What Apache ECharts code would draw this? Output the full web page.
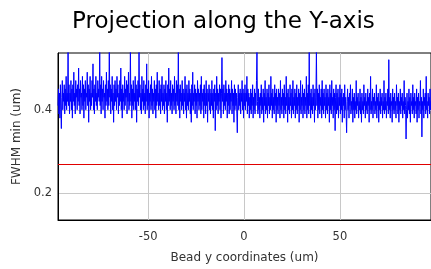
<!DOCTYPE html>
<html>
<head>
<meta charset="utf-8">
<script src="https://cdn.jsdelivr.net/npm/echarts@6/dist/echarts.min.js"></script>
<style>
  html, body { margin: 0; padding: 0; background: #fff; }
  #chart { width: 431px; height: 269px; }
</style>
</head>
<body>
<div id="chart"></div>
<script>
// bead positions are sampled every 0.25 um starting at -97 um
const xStart = -97;
const xStep = 0.25;

// FWHM min (um) per bead position
const fwhmMin = [
  0.41, 0.45, 0.39, 0.44, 0.38, 0.46, 0.40, 0.355, 0.43, 0.47, 0.40, 0.44, 0.42, 0.46, 0.39, 0.45, 0.41, 0.48, 0.40, 0.44,
  0.42, 0.54, 0.41, 0.46, 0.39, 0.44, 0.42, 0.47, 0.40, 0.45, 0.38, 0.46, 0.42, 0.49, 0.41, 0.44, 0.39, 0.47, 0.43, 0.45,
  0.40, 0.46, 0.42, 0.50, 0.41, 0.45, 0.39, 0.47, 0.43, 0.44, 0.40, 0.48, 0.41, 0.46, 0.38, 0.45, 0.42, 0.47, 0.40, 0.44,
  0.43, 0.49, 0.41, 0.46, 0.37, 0.45, 0.42, 0.48, 0.40, 0.44, 0.41, 0.47, 0.43, 0.51, 0.40, 0.45, 0.39, 0.46, 0.42, 0.48,
  0.41, 0.44, 0.40, 0.47, 0.43, 0.45, 0.42, 0.54, 0.41, 0.46, 0.39, 0.48, 0.42, 0.45, 0.40, 0.47, 0.43, 0.44, 0.38, 0.46,
  0.41, 0.49, 0.42, 0.45, 0.40, 0.47, 0.41, 0.54, 0.43, 0.46, 0.39, 0.45, 0.42, 0.48, 0.40, 0.44, 0.37, 0.46, 0.41, 0.47,
  0.42, 0.45, 0.40, 0.48, 0.43, 0.46, 0.39, 0.44, 0.41, 0.47, 0.42, 0.50, 0.40, 0.45, 0.38, 0.46, 0.42, 0.44, 0.40, 0.48,
  0.41, 0.45, 0.43, 0.47, 0.39, 0.46, 0.42, 0.49, 0.40, 0.44, 0.41, 0.54, 0.42, 0.46, 0.38, 0.45, 0.41, 0.47, 0.40, 0.44,
  0.42, 0.48, 0.40, 0.46, 0.37, 0.45, 0.42, 0.47, 0.41, 0.54, 0.43, 0.46, 0.40, 0.44, 0.39, 0.48, 0.42, 0.45, 0.40, 0.47,
  0.41, 0.44, 0.39, 0.46, 0.42, 0.51, 0.40, 0.45, 0.41, 0.47, 0.38, 0.44, 0.42, 0.46, 0.40, 0.48, 0.41, 0.45, 0.39, 0.44,
  0.42, 0.47, 0.40, 0.45, 0.38, 0.46, 0.41, 0.49, 0.42, 0.44, 0.40, 0.47, 0.41, 0.45, 0.39, 0.46, 0.42, 0.48, 0.40, 0.44,
  0.41, 0.46, 0.39, 0.45, 0.42, 0.47, 0.40, 0.44, 0.37, 0.46, 0.41, 0.50, 0.42, 0.45, 0.40, 0.47, 0.41, 0.44, 0.39, 0.46,
  0.42, 0.45, 0.40, 0.48, 0.41, 0.44, 0.39, 0.47, 0.42, 0.46, 0.41, 0.54, 0.40, 0.45, 0.38, 0.46, 0.42, 0.44, 0.40, 0.47,
  0.41, 0.45, 0.39, 0.44, 0.42, 0.48, 0.40, 0.45, 0.38, 0.46, 0.41, 0.44, 0.40, 0.47, 0.42, 0.45, 0.39, 0.44, 0.37, 0.46,
  0.41, 0.49, 0.40, 0.44, 0.42, 0.46, 0.39, 0.45, 0.41, 0.44, 0.38, 0.47, 0.42, 0.45, 0.40, 0.44, 0.41, 0.46, 0.39, 0.48,
  0.40, 0.44, 0.42, 0.45, 0.38, 0.46, 0.41, 0.44, 0.39, 0.47, 0.41, 0.45, 0.37, 0.44, 0.42, 0.46, 0.40, 0.45, 0.39, 0.44,
  0.41, 0.47, 0.40, 0.44, 0.38, 0.45, 0.42, 0.46, 0.35, 0.44, 0.40, 0.48, 0.41, 0.45, 0.39, 0.44, 0.42, 0.46, 0.40, 0.45,
  0.38, 0.44, 0.525, 0.42, 0.45, 0.39, 0.46, 0.41, 0.44, 0.40, 0.47, 0.42, 0.45, 0.38, 0.44, 0.41, 0.46, 0.39, 0.45, 0.40,
  0.44, 0.42, 0.47, 0.39, 0.45, 0.41, 0.44, 0.37, 0.46, 0.40, 0.45, 0.41, 0.44, 0.39, 0.345, 0.43, 0.46, 0.40, 0.44, 0.41,
  0.45, 0.39, 0.44, 0.42, 0.47, 0.40, 0.45, 0.38, 0.44, 0.41, 0.46, 0.40, 0.44, 0.42, 0.48, 0.39, 0.45, 0.41, 0.44, 0.38,
  0.43, 0.40, 0.45, 0.39, 0.44, 0.41, 0.46, 0.38, 0.43, 0.40, 0.45, 0.39, 0.44, 0.41, 0.47, 0.54, 0.42, 0.39, 0.45, 0.40,
  0.43, 0.38, 0.44, 0.41, 0.46, 0.39, 0.43, 0.40, 0.45, 0.37, 0.44, 0.41, 0.47, 0.39, 0.43, 0.40, 0.45, 0.38, 0.44, 0.41,
  0.46, 0.39, 0.43, 0.40, 0.48, 0.41, 0.44, 0.38, 0.45, 0.40, 0.43, 0.39, 0.46, 0.41, 0.44, 0.37, 0.45, 0.40, 0.43, 0.39,
  0.45, 0.41, 0.44, 0.38, 0.47, 0.40, 0.43, 0.39, 0.45, 0.41, 0.44, 0.38, 0.46, 0.40, 0.43, 0.39, 0.48, 0.41, 0.44, 0.37,
  0.45, 0.40, 0.43, 0.39, 0.46, 0.41, 0.44, 0.38, 0.45, 0.40, 0.47, 0.39, 0.43, 0.41, 0.45, 0.38, 0.44, 0.40, 0.46, 0.39,
  0.43, 0.41, 0.45, 0.37, 0.44, 0.40, 0.47, 0.39, 0.43, 0.41, 0.46, 0.38, 0.44, 0.40, 0.45, 0.39, 0.43, 0.41, 0.48, 0.38,
  0.44, 0.40, 0.46, 0.39, 0.54, 0.41, 0.44, 0.38, 0.45, 0.40, 0.43, 0.39, 0.46, 0.41, 0.44, 0.37, 0.45, 0.40, 0.43, 0.54,
  0.41, 0.45, 0.38, 0.44, 0.40, 0.46, 0.39, 0.43, 0.41, 0.45, 0.38, 0.47, 0.40, 0.44, 0.39, 0.45, 0.41, 0.43, 0.38, 0.46,
  0.40, 0.44, 0.39, 0.45, 0.41, 0.43, 0.37, 0.46, 0.40, 0.44, 0.39, 0.47, 0.41, 0.43, 0.38, 0.45, 0.40, 0.44, 0.35, 0.43,
  0.46, 0.39, 0.44, 0.40, 0.45, 0.38, 0.43, 0.41, 0.46, 0.39, 0.44, 0.40, 0.45, 0.37, 0.43, 0.41, 0.44, 0.38, 0.46, 0.40,
  0.43, 0.39, 0.345, 0.42, 0.45, 0.40, 0.43, 0.38, 0.44, 0.41, 0.46, 0.39, 0.42, 0.40, 0.45, 0.37, 0.43, 0.40, 0.44, 0.38,
  0.42, 0.40, 0.47, 0.39, 0.43, 0.41, 0.44, 0.38, 0.42, 0.40, 0.45, 0.39, 0.43, 0.37, 0.44, 0.40, 0.42, 0.39, 0.46, 0.41,
  0.43, 0.38, 0.44, 0.40, 0.42, 0.39, 0.45, 0.41, 0.43, 0.37, 0.44, 0.40, 0.48, 0.39, 0.42, 0.40, 0.45, 0.38, 0.43, 0.41,
  0.44, 0.39, 0.42, 0.40, 0.46, 0.38, 0.43, 0.41, 0.44, 0.37, 0.42, 0.40, 0.45, 0.39, 0.43, 0.41, 0.44, 0.38, 0.42, 0.40,
  0.47, 0.39, 0.43, 0.40, 0.44, 0.38, 0.42, 0.41, 0.45, 0.39, 0.52, 0.40, 0.43, 0.38, 0.44, 0.41, 0.42, 0.37, 0.45, 0.40,
  0.43, 0.39, 0.44, 0.40, 0.42, 0.38, 0.46, 0.41, 0.43, 0.39, 0.44, 0.37, 0.42, 0.40, 0.45, 0.39, 0.43, 0.41, 0.44, 0.38,
  0.42, 0.40, 0.47, 0.39, 0.43, 0.41, 0.33, 0.40, 0.44, 0.38, 0.42, 0.40, 0.45, 0.39, 0.43, 0.37, 0.44, 0.41, 0.42, 0.39,
  0.46, 0.40, 0.43, 0.38, 0.44, 0.41, 0.42, 0.39, 0.45, 0.37, 0.43, 0.40, 0.44, 0.38, 0.42, 0.41, 0.47, 0.39, 0.43, 0.335,
  0.42, 0.40, 0.45, 0.38, 0.43, 0.41, 0.44, 0.39, 0.48, 0.40, 0.42, 0.38, 0.44, 0.41, 0.43, 0.39, 0.45, 0.40, 0.42, 0.39
];

// red reference level
const thresholdValue = 0.267;

// tick labels
const xTicks = [-50, 0, 50];
const yTicks = [0.2, 0.4];

const points = fwhmMin.map((v, i) => [xStart + i * xStep, v]);

const chart = echarts.init(document.getElementById('chart'), null, { renderer: 'canvas' });

const fontFamily = '"DejaVu Sans", Verdana, sans-serif';

chart.setOption({
  backgroundColor: '#fff',
  animation: false,
  title: {
    text: 'Projection along the Y-axis',
    left: 67,
    top: 6,
    textStyle: { fontFamily, fontSize: 23, fontWeight: 'normal', color: '#000' }
  },
  grid: { left: 58, top: 53, right: -2, bottom: 48, show: true, borderColor: '#000', borderWidth: 1, backgroundColor: 'transparent' },
  xAxis: {
    type: 'value',
    min: -97,
    max: 97.5,
    name: 'Bead y coordinates (um)',
    nameLocation: 'middle',
    nameGap: 32,
    nameTextStyle: { fontFamily, fontSize: 12, color: '#333' },
    axisLine: { show: true, onZero: false, lineStyle: { color: '#000' } },
    axisTick: { show: false, customValues: xTicks },
    axisLabel: { customValues: xTicks, fontFamily, fontSize: 11.5, color: '#333', margin: 11 },
    splitLine: { show: true, lineStyle: { color: '#c8c8c8', width: 1 } }
  },
  yAxis: {
    type: 'value',
    min: 0.136,
    max: 0.536,
    name: 'FWHM min (um)',
    nameLocation: 'middle',
    nameGap: 29,
    nameRotate: 90,
    nameTextStyle: { fontFamily, fontSize: 12, color: '#333' },
    axisLine: { show: true, onZero: false, lineStyle: { color: '#000' } },
    axisTick: { show: false, customValues: yTicks },
    axisLabel: { customValues: yTicks, fontFamily, fontSize: 11.5, color: '#333', margin: 6, formatter: v => v.toFixed(1) },
    splitLine: { show: true, lineStyle: { color: '#c8c8c8', width: 1 } }
  },
  series: [{
    type: 'line',
    data: points,
    showSymbol: false,
    clip: true,
    lineStyle: { color: '#0000ff', width: 1 },
    markLine: {
      silent: true,
      symbol: 'none',
      label: { show: false },
      lineStyle: { color: '#e00000', width: 1.2, type: 'solid' },
      data: [{ yAxis: thresholdValue }]
    }
  }]
});
</script>
</body>
</html>
